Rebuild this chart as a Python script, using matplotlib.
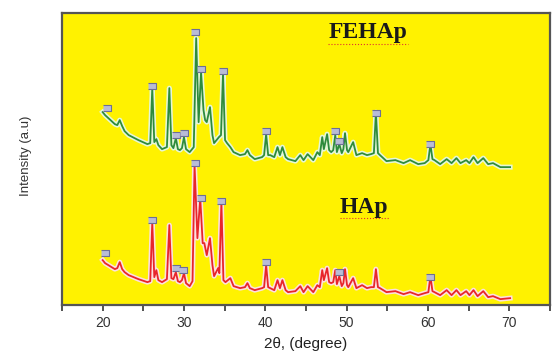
import numpy as np
import matplotlib
matplotlib.use("Agg")
from matplotlib import pyplot as plt
from matplotlib.ticker import MultipleLocator
import matplotlib.patheffects as pe

# XRD patterns (2theta in degrees, intensity in arbitrary units)
fehap_2theta = [20.0, 20.3, 20.7, 21.5, 21.8, 22.1, 22.4, 22.7, 23.2, 24.4, 25.5, 25.85,
                26.1, 26.35, 26.6, 26.85, 27.3, 27.9, 28.2, 28.45, 28.7, 29.0, 29.25, 29.5,
                29.75, 30.0, 30.25, 30.7, 31.2, 31.5, 31.8, 32.1, 32.4, 32.6, 32.8, 33.2,
                33.5, 33.7, 34.3, 34.55, 34.8, 35.05, 35.3, 35.7, 36.1, 36.9, 37.5, 37.8,
                38.1, 38.7, 39.6, 39.85, 40.1, 40.35, 40.6, 41.1, 41.5, 41.8, 42.1, 42.5,
                42.8, 43.7, 44.3, 44.7, 45.2, 45.9, 46.4, 46.7, 47.0, 47.2, 47.6, 47.85,
                48.1, 48.35, 48.6, 48.8, 49.1, 49.4, 49.6, 49.8, 50.05, 50.2, 50.8, 51.2,
                51.9, 52.5, 53.0, 53.35, 53.6, 53.85, 54.1, 54.9, 56.0, 57.0, 57.8, 58.8,
                59.6, 60.05, 60.3, 60.55, 60.8, 61.5, 62.3, 62.9, 63.5, 64.0, 64.7, 65.1,
                65.6, 66.1, 66.8, 67.4, 68.0, 68.9, 70.1]
fehap_int = [193, 190, 187, 181, 180, 185, 179, 174, 170, 165, 161, 162,
             217, 163, 166, 160, 156, 158, 217, 160, 157, 167, 156, 155,
             157, 168, 156, 153, 158, 267, 183, 233, 195, 185, 183, 198,
             170, 162, 168, 170, 232, 165, 162, 158, 153, 150, 151, 155,
             150, 146, 148, 150, 171, 150, 150, 148, 158, 150, 158, 148,
             146, 144, 150, 145, 151, 145, 153, 150, 168, 156, 171, 155,
             153, 155, 170, 153, 161, 152, 156, 172, 155, 153, 163, 150,
             152, 150, 151, 152, 193, 152, 150, 144, 145, 142, 145, 141,
             142, 145, 161, 146, 145, 141, 146, 142, 147, 142, 145, 142,
             148, 142, 147, 141, 142, 138, 138]

hap_2theta = [20.0, 20.3, 20.7, 21.5, 21.8, 22.1, 22.4, 22.7, 23.2, 24.4, 25.5, 25.85,
              26.1, 26.35, 26.6, 26.85, 27.3, 27.9, 28.2, 28.45, 28.7, 29.0, 29.25, 29.5,
              29.75, 30.0, 30.25, 30.7, 31.05, 31.3, 31.65, 32.0, 32.3, 32.5, 32.8, 33.2,
              33.5, 33.7, 34.2, 34.35, 34.6, 34.85, 35.1, 35.7, 36.1, 36.9, 37.5, 37.8,
              38.1, 38.7, 39.6, 39.85, 40.1, 40.35, 40.6, 41.1, 41.5, 41.8, 42.1, 42.5,
              42.8, 43.7, 44.3, 44.7, 45.2, 45.9, 46.4, 46.7, 47.0, 47.2, 47.6, 47.85,
              48.1, 48.35, 48.6, 48.8, 49.1, 49.4, 49.6, 49.8, 50.05, 50.2, 50.8, 51.2,
              51.9, 52.5, 53.0, 53.35, 53.6, 53.85, 54.1, 54.9, 56.0, 57.0, 57.8, 58.8,
              59.6, 60.05, 60.3, 60.55, 60.8, 61.5, 62.3, 62.9, 63.5, 64.0, 64.7, 65.1,
              65.6, 66.1, 66.8, 67.4, 68.0, 68.9, 70.1]
hap_int = [45, 42, 40, 36, 37, 43, 36, 33, 30, 26, 23, 24,
           83, 28, 35, 25, 23, 26, 80, 27, 26, 33, 24, 23,
           25, 32, 22, 19, 24, 140, 67, 107, 62, 62, 50, 67,
           40, 29, 37, 32, 103, 25, 23, 27, 19, 17, 18, 22,
           17, 15, 17, 18, 40, 18, 17, 15, 25, 17, 25, 15,
           13, 14, 19, 13, 19, 13, 20, 18, 35, 25, 37, 23,
           22, 23, 35, 21, 29, 19, 22, 36, 20, 18, 27, 17,
           20, 17, 18, 18, 36, 18, 17, 13, 14, 11, 13, 10,
           12, 13, 29, 14, 13, 10, 15, 10, 15, 10, 14, 10,
           15, 9, 14, 8, 9, 6, 7]

# small peak-label boxes drawn above the indexed reflections
fehap_mark_2theta = [20.5, 26.1, 29.0, 30.0, 31.3, 32.1, 34.8, 40.1, 48.6, 49.1, 53.6, 60.3]
fehap_mark_int = [197, 219, 170, 172, 273, 236, 234, 174, 174, 164, 192, 161]
hap_mark_2theta = [20.3, 26.1, 29.0, 29.9, 31.4, 32.1, 34.6, 40.1, 49.1, 60.3]
hap_mark_int = [52, 85, 37, 35, 142, 107, 104, 43, 33, 28]

fig = plt.figure(figsize=(5.52, 3.54), dpi=100)
ax = fig.add_axes([0.1123, 0.138, 0.884, 0.825])
ax.set_facecolor('#fff200')

ax.plot(fehap_2theta, fehap_int, color='#2e8b3c', lw=1.3, solid_joinstyle='round',
        path_effects=[pe.Stroke(linewidth=3.6, foreground='#e6f7d8'), pe.Normal()])
ax.plot(hap_2theta, hap_int, color='#e8252b', lw=1.3, solid_joinstyle='round',
        path_effects=[pe.Stroke(linewidth=3.6, foreground='#fde0e0'), pe.Normal()])

box = [(-1.5, -1), (1.5, -1), (1.5, 1), (-1.5, 1)]
for xs, ys in [(fehap_mark_2theta, fehap_mark_int), (hap_mark_2theta, hap_mark_int)]:
    ax.plot(xs, ys, ls='none', marker=box, ms=6, mfc='#b9bcd6', mec='#6d6f96', mew=0.8)

ax.text(0.627, 0.932, 'FEHAp', transform=ax.transAxes, ha='center', va='center',
        family='Liberation Serif', weight='bold', fontsize=17, color='#1a1a1a')
ax.text(0.619, 0.336, 'HAp', transform=ax.transAxes, ha='center', va='center',
        family='Liberation Serif', weight='bold', fontsize=17, color='#1a1a1a')
# spell-check squiggles under the labels
ax.plot([0.545, 0.709], [0.893, 0.893], transform=ax.transAxes, color='#e03030', lw=0.8, ls=':')
ax.plot([0.570, 0.670], [0.297, 0.297], transform=ax.transAxes, color='#e03030', lw=0.8, ls=':')

ax.set_xlim(15, 75)
ax.set_ylim(0, 292)
ax.xaxis.set_minor_locator(MultipleLocator(5))
ax.set_xticks(range(20, 71, 10))
ax.tick_params(axis='x', which='both', direction='out', length=4, width=1.2, color='#333333',
               labelsize=10, labelcolor='#333333', pad=4)
ax.set_yticks([])
for s in ax.spines.values():
    s.set_color('#555555')
    s.set_linewidth(1.6)

ax.set_xlabel('2θ, (degree)', family='Liberation Sans', fontsize=11, color='#222222', labelpad=5)
fig.text(0.047, 0.56, 'Intensity (a.u)', rotation=90, ha='center', va='center',
         family='Liberation Sans', fontsize=9.5, color='#333333')
for lab in ax.get_xticklabels():
    lab.set_family('Liberation Sans')

fig.savefig('out.png', dpi=100)
